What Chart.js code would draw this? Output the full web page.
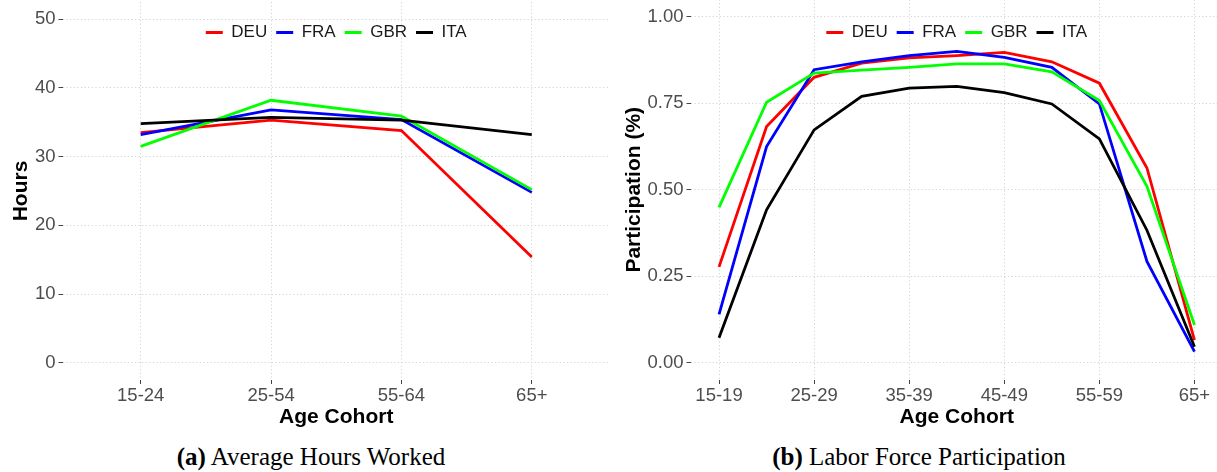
<!DOCTYPE html>
<html><head><meta charset="utf-8">
<script src="https://cdn.jsdelivr.net/npm/chart.js@4/dist/chart.umd.min.js"></script>
<style>
html,body{margin:0;padding:0;background:#fff;overflow:hidden;width:1217px;height:472px;position:relative;}
canvas{position:absolute;top:-10px;}
#c1{left:0;}
#c2{left:612px;}
.cap{position:absolute;font-family:"Liberation Serif","Times New Roman",serif;font-size:25px;color:#000;white-space:nowrap;transform:translate(-50%,-50%);}
</style></head><body>
<canvas id="c1" width="612" height="440"></canvas>
<canvas id="c2" width="615" height="440"></canvas>
<div class="cap" style="left:311px;top:457px"><b>(a)</b> Average Hours Worked</div>
<div class="cap" style="left:919px;top:457px"><b>(b)</b> Labor Force Participation</div>
<script>
// ---- data ----
const countries = ["DEU", "FRA", "GBR", "ITA"];
const colors = ["#ff0000", "#0000ff", "#00ff00", "#000000"];

const hoursCats = ["15-24", "25-54", "55-64", "65+"];
const hoursDEU = [33.5, 35.3, 33.8, 15.4];
const hoursFRA = [33.2, 36.8, 35.4, 24.8];
const hoursGBR = [31.5, 38.2, 35.9, 25.2];
const hoursITA = [34.8, 35.7, 35.3, 33.2];
const hoursTicks = [0, 10, 20, 30, 40, 50];

const partCats = ["15-19", "20-24", "25-29", "30-34", "35-39", "40-44", "45-49", "50-54", "55-59", "60-64", "65+"];
const partDEU = [0.277, 0.683, 0.825, 0.866, 0.881, 0.888, 0.897, 0.870, 0.808, 0.563, 0.065];
const partFRA = [0.140, 0.625, 0.847, 0.870, 0.888, 0.900, 0.883, 0.854, 0.748, 0.293, 0.032];
const partGBR = [0.449, 0.753, 0.837, 0.846, 0.854, 0.864, 0.864, 0.841, 0.758, 0.510, 0.109];
const partITA = [0.072, 0.442, 0.673, 0.770, 0.794, 0.799, 0.781, 0.748, 0.647, 0.383, 0.046];
const partTickIdx = [0, 2, 4, 6, 8, 10];
const partTicks = [0, 0.25, 0.5, 0.75, 1.0];

// ---- styling ----
const SANS = '"Liberation Sans", Arial, Helvetica, sans-serif';
const GRID = '#d4d4d4';

// keep the (horizontal) legend from taking layout space and let it sit inside the plot panel
const legendInside = {
  id: 'legendInside',
  afterLayout(chart) {
    const lg = chart.legend;
    if (!lg) return;
    lg.top = chart.chartArea.top;
    lg.bottom = chart.chartArea.bottom;
    lg.height = lg.bottom - lg.top;
  }
};

function makeDatasets(cats, seriesList) {
  return seriesList.map((vals, k) => ({
    label: countries[k],
    data: vals.map((v, i) => ({x: i, y: v})),
    borderColor: colors[k],
    backgroundColor: colors[k],
    borderWidth: 2.8,
    pointRadius: 0,
    tension: 0,
    fill: false,
    order: seriesList.length - 1 - k
  }));
}

function makeChart(canvas, o) {
  return new Chart(canvas, {
    type: 'line',
    data: {datasets: makeDatasets(o.cats, o.series)},
    plugins: [legendInside],
    options: {
      responsive: false,
      animation: false,
      devicePixelRatio: 1,
      layout: {padding: o.padding},
      plugins: {
        tooltip: {enabled: false},
        legend: {
          position: 'top',
          fullSize: false,
          align: 'center',
          maxHeight: 0.001,
          title: {display: true, text: '', padding: 0, font: {size: o.legendGap, lineHeight: 1}},
          labels: {
            usePointStyle: true,
            pointStyle: 'line',
            pointStyleWidth: 17,
            padding: 9,
            color: '#1a1a1a',
            font: {family: SANS, size: 17},
            sort: (a, b) => a.datasetIndex - b.datasetIndex
          }
        }
      },
      scales: {
        x: {
          type: 'linear',
          min: -0.6,
          max: o.cats.length - 1 + 0.6,
          afterBuildTicks: (ax) => { ax.ticks = o.xTickIdx.map(v => ({value: v})); },
          afterFit: (ax) => { ax.height = 50; ax.paddingLeft = 0; ax.paddingRight = 0; },
          border: {display: false, dash: [1.2, 2.4]},
          grid: {color: GRID, lineWidth: 1, drawTicks: true, tickLength: 4, tickColor: '#444', tickWidth: 1},
          ticks: {
            autoSkip: false, maxRotation: 0, minRotation: 0, padding: 1,
            color: '#4d4d4d', font: {family: SANS, size: 18.5},
            callback: (v) => o.cats[Math.round(v)]
          },
          title: {display: true, text: 'Age Cohort', color: '#000',
                  font: {family: SANS, size: 21, weight: 'bold'}, padding: {top: 4, bottom: 0}}
        },
        y: {
          type: 'linear',
          min: o.yMin, max: o.yMax,
          afterBuildTicks: (ax) => { ax.ticks = o.yTicks.map(v => ({value: v})); },
          afterFit: (ax) => { ax.width = o.yWidth; ax.paddingTop = 0; ax.paddingBottom = 0; },
          border: {display: false, dash: [1.2, 2.4]},
          grid: {color: GRID, lineWidth: 1, drawTicks: true, tickLength: 4, tickColor: '#444', tickWidth: 1},
          ticks: {
            padding: 3, color: '#4d4d4d', font: {family: SANS, size: 18.5},
            callback: o.yFmt
          },
          title: {display: true, text: o.yTitle, color: '#000',
                  font: {family: SANS, size: 21, weight: 'bold'}, padding: {top: o.yTitlePad, bottom: 0}}
        }
      }
    }
  });
}

makeChart(document.getElementById('c1'), {
  cats: hoursCats,
  series: [hoursDEU, hoursFRA, hoursGBR, hoursITA],
  xTickIdx: hoursCats.map((c, i) => i),
  yMin: -2.5, yMax: 52.5, yTicks: hoursTicks,
  yFmt: (v) => String(v),
  yTitle: 'Hours', yTitlePad: 8.4, yWidth: 62.5,
  padding: {left: 0, top: 12, right: 2, bottom: 0},
  legendGap: 13
});

makeChart(document.getElementById('c2'), {
  cats: partCats,
  series: [partDEU, partFRA, partGBR, partITA],
  xTickIdx: partTickIdx,
  yMin: -0.05, yMax: 1.05, yTicks: partTicks,
  yFmt: (v) => Number(v).toFixed(2),
  yTitle: 'Participation (%)', yTitlePad: 10, yWidth: 78.5,
  padding: {left: 0, top: 9.5, right: 4, bottom: 0},
  legendGap: 15.5
});
</script>
</body></html>
